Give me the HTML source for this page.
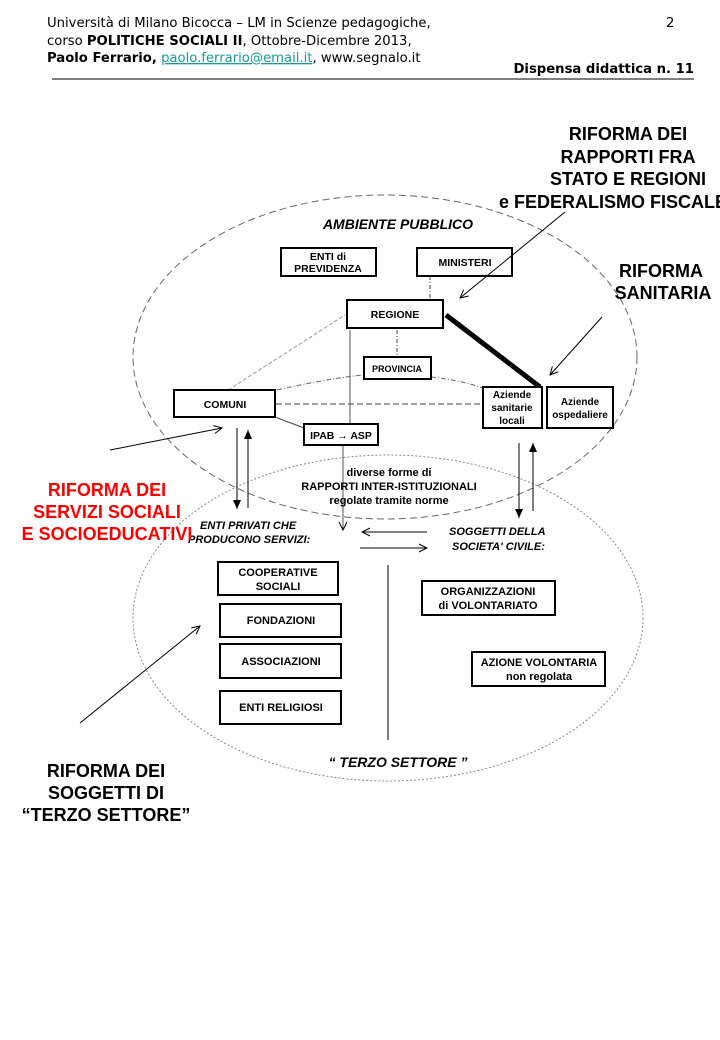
<!DOCTYPE html>
<html><head><meta charset="utf-8"><style>
body{margin:0;background:#fff;width:720px;height:1040px;overflow:hidden}
svg{display:block}
.h{font-family:"DejaVu Sans",sans-serif;font-size:13.2px;fill:#000}
.b{font-family:"Liberation Sans",sans-serif;font-weight:bold;fill:#000}
.bx{fill:#fff;stroke:#000;stroke-width:2}
</style></head><body>
<svg width="720" height="1040" viewBox="0 0 720 1040" xmlns="http://www.w3.org/2000/svg">
<defs><marker id="a" markerWidth="10" markerHeight="10" refX="9" refY="5" orient="auto" markerUnits="userSpaceOnUse"><path d="M1,1 L9,5 L1,9" fill="none" stroke="#000" stroke-width="1"/></marker>
<marker id="f" markerWidth="10" markerHeight="10" refX="9" refY="5" orient="auto" markerUnits="userSpaceOnUse"><path d="M0,1 L9,5 L0,9z" fill="#000"/></marker></defs>
<text class="h" x="47" y="27">Università di Milano Bicocca – LM in Scienze pedagogiche,</text>
<text class="h" x="47" y="45">corso <tspan font-weight="bold">POLITICHE SOCIALI II</tspan>, Ottobre-Dicembre 2013,</text>
<text class="h" x="47" y="62"><tspan font-weight="bold">Paolo Ferrario,</tspan> <tspan fill="#1a9a9a" text-decoration="underline">paolo.ferrario@email.it</tspan>, www.segnalo.it</text>
<text class="h" x="666" y="27">2</text>
<text class="h" x="694" y="73" text-anchor="end" font-weight="bold" font-size="13">Dispensa didattica n. 11</text>
<line x1="52" y1="79" x2="694" y2="79" stroke="#000" stroke-width="1"/>

<ellipse cx="385" cy="357" rx="252" ry="162" fill="none" stroke="#666" stroke-dasharray="7,4"/>
<ellipse cx="388" cy="618" rx="255" ry="163" fill="none" stroke="#888" stroke-dasharray="2,2"/>
<path d="M228,390 L345,315" stroke="#999" fill="none" stroke-dasharray="4,2"/>
<path d="M277,390 Q330,378 364,375" stroke="#666" fill="none" stroke-dasharray="5,2,1,2"/>
<path d="M431,377 Q460,380 483,388" stroke="#666" fill="none" stroke-dasharray="5,2,1,2"/>
<line x1="430" y1="276" x2="430" y2="300" stroke="#444" stroke-dasharray="4,2,1,2"/>
<line x1="397" y1="330" x2="397" y2="357" stroke="#444" stroke-dasharray="4,2,1,2"/>
<line x1="276" y1="404" x2="483" y2="404" stroke="#444" stroke-dasharray="6,3"/>
<line x1="275" y1="417" x2="304" y2="428" stroke="#444"/>
<line x1="350" y1="330" x2="350" y2="424" stroke="#555"/>
<line x1="343" y1="446" x2="343" y2="530" stroke="#555" marker-end="url(#a)"/>
<line x1="446" y1="315" x2="540" y2="387" stroke="#000" stroke-width="5"/>

<rect class="bx" x="281" y="248" width="95" height="28"/>
<text class="b" font-size="10.5" x="328" y="260" text-anchor="middle">ENTI di</text>
<text class="b" font-size="10.5" x="328" y="272" text-anchor="middle">PREVIDENZA</text>
<rect class="bx" x="417" y="248" width="95" height="28"/>
<text class="b" font-size="10.5" x="465" y="266" text-anchor="middle">MINISTERI</text>
<rect class="bx" x="347" y="300" width="96" height="28"/>
<text class="b" font-size="10.5" x="395" y="318" text-anchor="middle">REGIONE</text>
<rect class="bx" x="364" y="357" width="67" height="22"/>
<text class="b" font-size="9" x="397" y="372" text-anchor="middle">PROVINCIA</text>
<rect class="bx" x="174" y="390" width="101" height="27"/>
<text class="b" font-size="10.5" x="225" y="408" text-anchor="middle">COMUNI</text>
<rect class="bx" x="304" y="424" width="74" height="21"/>
<text class="b" font-size="10.5" x="341" y="439" text-anchor="middle">IPAB → ASP</text>
<rect class="bx" x="483" y="387" width="59" height="41"/>
<text class="b" font-size="10" x="512" y="398" text-anchor="middle">Aziende</text>
<text class="b" font-size="10" x="512" y="411" text-anchor="middle">sanitarie</text>
<text class="b" font-size="10" x="512" y="424" text-anchor="middle">locali</text>
<rect class="bx" x="547" y="387" width="66" height="41"/>
<text class="b" font-size="10" x="580" y="405" text-anchor="middle">Aziende</text>
<text class="b" font-size="10" x="580" y="418" text-anchor="middle">ospedaliere</text>

<text class="b" font-size="14" font-style="italic" x="398" y="229" text-anchor="middle">AMBIENTE  PUBBLICO</text>
<text class="b" font-size="11" x="389" y="476" text-anchor="middle">diverse forme di</text>
<text class="b" font-size="11" x="389" y="490" text-anchor="middle">RAPPORTI INTER-ISTITUZIONALI</text>
<text class="b" font-size="11" x="389" y="504" text-anchor="middle">regolate tramite norme</text>

<line x1="237" y1="428" x2="237" y2="509" stroke="#000" marker-end="url(#f)"/>
<line x1="248" y1="508" x2="248" y2="430" stroke="#000" marker-end="url(#f)"/>
<line x1="519" y1="443" x2="519" y2="518" stroke="#000" marker-end="url(#f)"/>
<line x1="533" y1="511" x2="533" y2="443" stroke="#000" marker-end="url(#f)"/>
<line x1="427" y1="532" x2="362" y2="532" stroke="#000" marker-end="url(#a)"/>
<line x1="360" y1="548" x2="427" y2="548" stroke="#000" marker-end="url(#a)"/>
<line x1="388" y1="565" x2="388" y2="740" stroke="#555" stroke-width="1.5"/>

<text class="b" font-size="11" font-style="italic" x="200" y="529">ENTI  PRIVATI  CHE</text>
<text class="b" font-size="11" font-style="italic" x="188" y="543">PRODUCONO  SERVIZI:</text>
<text class="b" font-size="11" font-style="italic" x="449" y="535">SOGGETTI DELLA</text>
<text class="b" font-size="11" font-style="italic" x="452" y="550">SOCIETA' CIVILE:</text>

<rect class="bx" x="218" y="562" width="120" height="33"/>
<text class="b" font-size="11" x="278" y="576" text-anchor="middle">COOPERATIVE</text>
<text class="b" font-size="11" x="278" y="590" text-anchor="middle">SOCIALI</text>
<rect class="bx" x="220" y="604" width="121" height="33"/>
<text class="b" font-size="11" x="281" y="624" text-anchor="middle">FONDAZIONI</text>
<rect class="bx" x="220" y="644" width="121" height="34"/>
<text class="b" font-size="11" x="281" y="665" text-anchor="middle">ASSOCIAZIONI</text>
<rect class="bx" x="220" y="691" width="121" height="33"/>
<text class="b" font-size="11" x="281" y="711" text-anchor="middle">ENTI RELIGIOSI</text>
<rect class="bx" x="422" y="581" width="133" height="34"/>
<text class="b" font-size="11" x="488" y="595" text-anchor="middle">ORGANIZZAZIONI</text>
<text class="b" font-size="11" x="488" y="609" text-anchor="middle">di  VOLONTARIATO</text>
<rect class="bx" x="472" y="652" width="133" height="34"/>
<text class="b" font-size="11" x="539" y="666" text-anchor="middle">AZIONE VOLONTARIA</text>
<text class="b" font-size="11" x="539" y="680" text-anchor="middle">non regolata</text>
<text class="b" font-size="14" font-style="italic" x="398" y="767" text-anchor="middle">“ TERZO  SETTORE ”</text>

<g class="b" font-size="18">
<text x="628" y="140" text-anchor="middle">RIFORMA DEI</text>
<text x="628" y="163" text-anchor="middle">RAPPORTI FRA</text>
<text x="628" y="185" text-anchor="middle">STATO E REGIONI</text>
<text x="499" y="208">e FEDERALISMO FISCALE</text>
<text x="661" y="277" text-anchor="middle">RIFORMA</text>
<text x="663" y="299" text-anchor="middle">SANITARIA</text>
<text x="107" y="496" text-anchor="middle" style="fill:#f00">RIFORMA DEI</text>
<text x="107" y="518" text-anchor="middle" style="fill:#f00">SERVIZI SOCIALI</text>
<text x="107" y="540" text-anchor="middle" style="fill:#f00">E SOCIOEDUCATIVI</text>
<text x="106" y="777" text-anchor="middle">RIFORMA DEI</text>
<text x="106" y="799" text-anchor="middle">SOGGETTI DI</text>
<text x="106" y="821" text-anchor="middle">“TERZO SETTORE”</text>
</g>
<line x1="565" y1="212" x2="460" y2="298" stroke="#000" marker-end="url(#a)"/>
<line x1="602" y1="317" x2="550" y2="375" stroke="#000" marker-end="url(#a)"/>
<line x1="110" y1="450" x2="222" y2="428" stroke="#000" marker-end="url(#a)"/>
<line x1="80" y1="723" x2="200" y2="626" stroke="#000" marker-end="url(#a)"/>
</svg>
</body></html>
